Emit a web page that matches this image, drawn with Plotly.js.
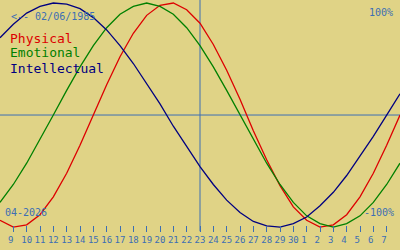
<!DOCTYPE html>
<html><head><meta charset="utf-8">
<script src="https://cdn.plot.ly/plotly-3.0.1.min.js"></script>
<style>html,body{margin:0;padding:0;background:#e0d386;}#chart{width:400px;height:250px;}</style>
</head><body><div id="chart"></div>
<script>
// Day-of-month labels (8 Apr .. 8 May 2026)
const days = [8,9,10,11,12,13,14,15,16,17,18,19,20,21,22,23,24,25,26,27,28,29,30,1,2,3,4,5,6,7,8];
// Biorhythm values in percent, one per day
const physical = [-94,-100,-98,-89,-73,-52,-27,0,27,52,73,89,98,100,94,82,63,40,14,-14,-40,-63,-82,-94,-100,-98,-89,-73,-52,-27,0];
const emotional = [-78,-62,-43,-22,0,22,43,62,78,90,97,100,97,90,78,62,43,22,0,-22,-43,-62,-78,-90,-97,-100,-97,-90,-78,-62,-43];
const intellectual = [69,81,91,97,100,99,95,87,76,62,46,28,10,-10,-28,-46,-62,-76,-87,-95,-99,-100,-97,-91,-81,-69,-54,-37,-19,0,19];
const seriesNames = ["Physical","Emotional","Intellectual"];
const todayIndex = 15;
const birthLabel = "&lt;-- 02/06/1985";
const monthLabel = "04-2026";
const topLabel = "100%";
const bottomLabel = "-100%";

const BG = "#e0d386";
const AX = "#3c6eb4";
const colors = ["#dd0000","#008000","#000080"];
const mono = "DejaVu Sans Mono, monospace";

const xs = days.map((d,i)=>i);
const series = [physical, emotional, intellectual];
const traces = series.map((vals,si)=>({
  x: xs, y: vals, type:"scatter", mode:"lines",
  line:{color:colors[si], width:1.3}, hoverinfo:"skip", showlegend:false
}));

const tickvals = xs.slice(1, xs.length-1);
const ticktext = tickvals.map(i => String(days[i]).length === 1 ? days[i] + "\u00a0" : String(days[i]));

const ann = [
  {text:birthLabel, x:10/400, y:1-16/250, xanchor:"left", yanchor:"middle", font:{family:mono,size:10,color:AX}},
  {text:topLabel, x:394/400, y:1-12/250, xanchor:"right", yanchor:"middle", font:{family:mono,size:10,color:AX}},
  {text:bottomLabel, x:395/400, y:1-212/250, xanchor:"right", yanchor:"middle", font:{family:mono,size:10,color:AX}},
  {text:monthLabel, x:4/400, y:1-212/250, xanchor:"left", yanchor:"middle", font:{family:mono,size:10,color:AX}}
];
seriesNames.forEach((n,i)=>{
  ann.push({text:n, x:9/400, y:1-(38+15*i)/250, xanchor:"left", yanchor:"middle", font:{family:mono,size:13,color:colors[i]}});
});
ann.forEach(a=>{a.xref="paper"; a.yref="paper"; a.showarrow=false; a.borderpad=0;});

const layout = {
  width:400, height:250,
  margin:{l:0,r:0,t:0,b:0,pad:0},
  paper_bgcolor:BG, plot_bgcolor:BG,
  showlegend:false,
  xaxis:{range:[0,30], anchor:"free", position:0.1, showgrid:false, zeroline:false, showline:false,
    ticks:"outside", ticklen:6, tickwidth:1, tickcolor:AX, tickvals:tickvals, ticktext:ticktext,
    tickfont:{family:mono,size:9,color:AX}, fixedrange:true},
  yaxis:{range:[-120.5,102.7], visible:false, showgrid:false, zeroline:false, fixedrange:true},
  shapes:[
    {type:"line", xref:"paper", yref:"y", x0:0, x1:1, y0:0, y1:0, line:{color:AX,width:1}, layer:"below"},
    {type:"line", xref:"x", yref:"paper", x0:xs[todayIndex], x1:xs[todayIndex], y0:0.075, y1:1, line:{color:AX,width:1}, layer:"below"}
  ],
  annotations:ann
};
Plotly.newPlot("chart", traces, layout, {staticPlot:true, displayModeBar:false});
</script></body></html>
